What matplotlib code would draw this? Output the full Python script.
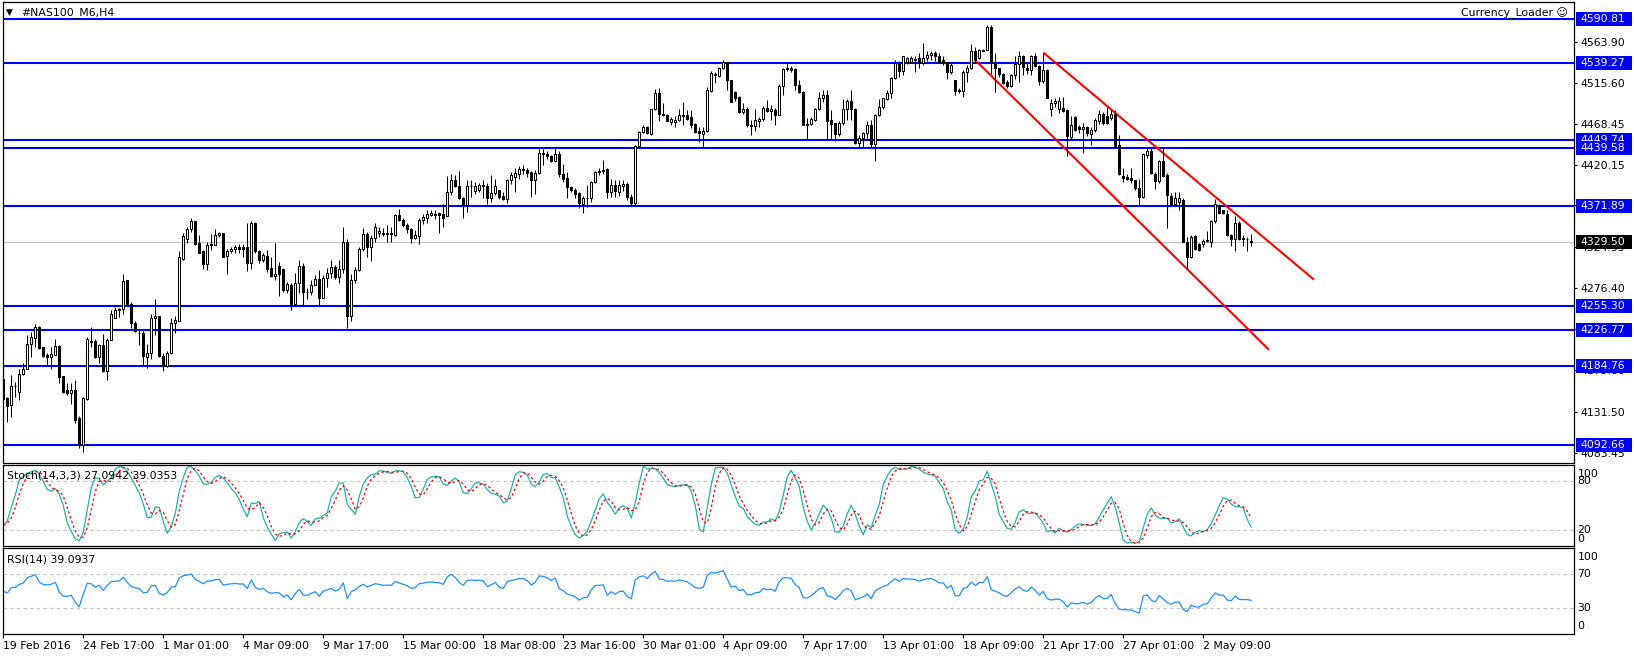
import numpy as np
import pandas as pd
import matplotlib
matplotlib.use('Agg')
import matplotlib.pyplot as plt
from matplotlib.patches import Rectangle

# ---- candles (#NAS100_M6, H4), one value per bar ----
opens = [4170, 4147, 4139, 4161, 4154, 4176, 4182, 4211, 4218, 4230,
         4207, 4198, 4196, 4198, 4208, 4173, 4157, 4153, 4157, 4124,
         4093, 4146, 4213, 4214, 4195, 4209, 4179, 4215, 4241, 4250,
         4252, 4285, 4258, 4235, 4224, 4224, 4196, 4200, 4241, 4243,
         4197, 4185, 4200, 4235, 4238, 4310, 4334, 4345, 4354, 4329,
         4319, 4304, 4326, 4327, 4338, 4340, 4314, 4319, 4322, 4324,
         4324, 4324, 4305, 4352, 4320, 4309, 4314, 4299, 4290, 4302,
         4298, 4274, 4280, 4257, 4282, 4302, 4272, 4271, 4280, 4287,
         4265, 4288, 4294, 4301, 4289, 4298, 4330, 4243, 4286, 4297,
         4322, 4339, 4324, 4335, 4341, 4341, 4339, 4340, 4338, 4361,
         4356, 4350, 4345, 4335, 4337, 4356, 4358, 4361, 4361, 4364,
         4363, 4360, 4389, 4403, 4395, 4381, 4373, 4395, 4390, 4391,
         4397, 4395, 4381, 4387, 4391, 4384, 4380, 4403, 4406, 4410,
         4414, 4414, 4412, 4402, 4411, 4434, 4433, 4430, 4425, 4433,
         4410, 4405, 4394, 4391, 4387, 4375, 4381, 4382, 4400, 4412,
         4413, 4415, 4388, 4397, 4389, 4396, 4398, 4383, 4376, 4442,
         4459, 4465, 4456, 4485, 4504, 4480, 4478, 4470, 4470, 4473,
         4479, 4478, 4476, 4468, 4460, 4456, 4460, 4507, 4525, 4524,
         4533, 4540, 4519, 4506, 4500, 4482, 4486, 4467, 4466, 4472,
         4474, 4487, 4483, 4484, 4479, 4513, 4534, 4534, 4532, 4514,
         4506, 4468, 4468, 4473, 4485, 4498, 4502, 4473, 4469, 4456,
         4469, 4485, 4495, 4486, 4446, 4452, 4457, 4467, 4445, 4478,
         4488, 4497, 4504, 4522, 4539, 4530, 4540, 4540, 4543, 4545,
         4539, 4545, 4549, 4551, 4547, 4543, 4541, 4529, 4519, 4508,
         4507, 4529, 4533, 4553, 4545, 4553, 4555, 4582, 4539, 4533,
         4527, 4517, 4512, 4525, 4538, 4547, 4533, 4531, 4547, 4536,
         4518, 4531, 4486, 4492, 4486, 4487, 4484, 4453, 4476, 4464,
         4462, 4464, 4456, 4461, 4471, 4480, 4477, 4475, 4480, 4444,
         4407, 4406, 4405, 4402, 4393, 4383, 4432, 4437, 4410, 4401,
         4425, 4408, 4384, 4375, 4377, 4379, 4330, 4313, 4337, 4328,
         4328, 4331, 4330, 4354, 4373, 4367, 4363, 4338, 4334, 4352,
         4335, 4334, 4331]
highs = [4172, 4149, 4174, 4166, 4182, 4189, 4221, 4225, 4234, 4232,
         4207, 4200, 4207, 4216, 4209, 4173, 4165, 4165, 4168, 4126,
         4149, 4219, 4230, 4217, 4211, 4222, 4218, 4250, 4254, 4253,
         4292, 4285, 4260, 4238, 4228, 4226, 4211, 4246, 4263, 4244,
         4200, 4202, 4241, 4243, 4319, 4340, 4348, 4358, 4355, 4338,
         4321, 4330, 4339, 4345, 4342, 4340, 4322, 4324, 4326, 4328,
         4328, 4352, 4354, 4353, 4321, 4317, 4321, 4312, 4329, 4307,
         4299, 4283, 4282, 4294, 4309, 4306, 4276, 4285, 4291, 4297,
         4291, 4299, 4309, 4303, 4309, 4347, 4334, 4292, 4301, 4324,
         4346, 4342, 4338, 4352, 4347, 4346, 4350, 4347, 4363, 4369,
         4358, 4352, 4346, 4344, 4358, 4363, 4367, 4368, 4367, 4365,
         4375, 4407, 4409, 4408, 4413, 4383, 4402, 4402, 4400, 4399,
         4403, 4399, 4408, 4404, 4391, 4389, 4404, 4412, 4416, 4419,
         4420, 4416, 4413, 4414, 4439, 4439, 4436, 4432, 4440, 4436,
         4421, 4412, 4395, 4393, 4389, 4384, 4397, 4401, 4413, 4416,
         4426, 4416, 4404, 4403, 4402, 4402, 4400, 4386, 4443, 4460,
         4467, 4466, 4486, 4509, 4510, 4492, 4480, 4476, 4477, 4486,
         4494, 4484, 4484, 4469, 4465, 4465, 4511, 4530, 4529, 4535,
         4543, 4541, 4520, 4507, 4501, 4492, 4488, 4473, 4486, 4476,
         4489, 4496, 4490, 4487, 4515, 4533, 4539, 4536, 4533, 4519,
         4507, 4475, 4476, 4487, 4506, 4508, 4508, 4484, 4469, 4471,
         4497, 4497, 4508, 4487, 4455, 4459, 4471, 4473, 4480, 4497,
         4499, 4508, 4523, 4543, 4542, 4548, 4546, 4547, 4547, 4551,
         4563, 4553, 4553, 4553, 4551, 4547, 4541, 4539, 4520, 4510,
         4531, 4537, 4562, 4558, 4556, 4556, 4584, 4584, 4551, 4534,
         4528, 4519, 4527, 4547, 4553, 4549, 4539, 4549, 4551, 4537,
         4551, 4532, 4497, 4498, 4500, 4500, 4485, 4477, 4477, 4467,
         4469, 4466, 4464, 4475, 4484, 4482, 4488, 4484, 4484, 4455,
         4416, 4410, 4416, 4403, 4404, 4434, 4441, 4441, 4412, 4426,
         4441, 4411, 4387, 4388, 4388, 4381, 4336, 4338, 4338, 4329,
         4333, 4343, 4356, 4380, 4374, 4368, 4367, 4339, 4360, 4354,
         4338, 4336, 4339]
lows = [4137, 4120, 4125, 4149, 4145, 4174, 4182, 4196, 4207, 4205,
        4196, 4186, 4182, 4198, 4165, 4153, 4151, 4141, 4118, 4089,
        4084, 4145, 4207, 4194, 4188, 4178, 4168, 4215, 4241, 4242,
        4246, 4257, 4229, 4225, 4209, 4185, 4183, 4193, 4221, 4196,
        4179, 4184, 4199, 4223, 4238, 4309, 4329, 4342, 4326, 4317,
        4298, 4297, 4321, 4326, 4336, 4313, 4293, 4317, 4317, 4317,
        4313, 4296, 4298, 4317, 4306, 4307, 4295, 4289, 4285, 4267,
        4272, 4270, 4250, 4255, 4270, 4255, 4263, 4268, 4280, 4256,
        4264, 4277, 4288, 4287, 4282, 4294, 4229, 4238, 4282, 4296,
        4320, 4312, 4308, 4330, 4336, 4337, 4330, 4330, 4337, 4355,
        4348, 4340, 4329, 4334, 4328, 4351, 4352, 4360, 4357, 4340,
        4348, 4360, 4385, 4394, 4380, 4358, 4365, 4383, 4386, 4389,
        4381, 4375, 4377, 4385, 4380, 4379, 4376, 4398, 4389, 4404,
        4409, 4406, 4383, 4386, 4409, 4420, 4427, 4423, 4424, 4406,
        4400, 4382, 4389, 4382, 4370, 4364, 4371, 4377, 4399, 4408,
        4410, 4381, 4383, 4383, 4384, 4390, 4379, 4372, 4372, 4441,
        4458, 4456, 4455, 4484, 4471, 4477, 4471, 4467, 4464, 4471,
        4467, 4473, 4463, 4458, 4447, 4441, 4459, 4506, 4516, 4523,
        4532, 4508, 4494, 4495, 4481, 4480, 4465, 4455, 4460, 4465,
        4472, 4482, 4473, 4467, 4478, 4502, 4530, 4529, 4508, 4504,
        4467, 4450, 4467, 4471, 4484, 4494, 4450, 4450, 4448, 4454,
        4467, 4473, 4473, 4445, 4441, 4441, 4451, 4441, 4425, 4477,
        4486, 4496, 4499, 4521, 4523, 4525, 4538, 4539, 4529, 4533,
        4537, 4542, 4543, 4542, 4539, 4537, 4521, 4527, 4502, 4504,
        4500, 4517, 4532, 4540, 4544, 4553, 4555, 4527, 4506, 4523,
        4515, 4510, 4511, 4521, 4517, 4525, 4527, 4525, 4535, 4514,
        4516, 4498, 4477, 4488, 4481, 4482, 4430, 4451, 4460, 4458,
        4434, 4454, 4443, 4459, 4468, 4467, 4468, 4473, 4441, 4408,
        4400, 4402, 4399, 4391, 4372, 4381, 4428, 4410, 4392, 4399,
        4406, 4346, 4373, 4373, 4367, 4330, 4299, 4311, 4321, 4320,
        4324, 4330, 4324, 4352, 4363, 4363, 4337, 4325, 4320, 4332,
        4325, 4320, 4325]
closes = [4146, 4138, 4161, 4162, 4176, 4182, 4211, 4219, 4230, 4206,
          4197, 4196, 4199, 4208, 4172, 4154, 4153, 4157, 4122, 4093,
          4147, 4217, 4214, 4195, 4209, 4179, 4215, 4246, 4250, 4252,
          4284, 4257, 4235, 4226, 4223, 4197, 4200, 4241, 4243, 4197,
          4185, 4200, 4235, 4239, 4312, 4337, 4345, 4355, 4328, 4317,
          4304, 4326, 4328, 4338, 4340, 4313, 4319, 4322, 4324, 4322,
          4322, 4305, 4352, 4319, 4309, 4315, 4298, 4290, 4293, 4292,
          4274, 4281, 4257, 4282, 4302, 4272, 4271, 4280, 4287, 4265,
          4288, 4294, 4301, 4289, 4298, 4330, 4243, 4286, 4297, 4322,
          4339, 4324, 4335, 4347, 4343, 4339, 4340, 4339, 4361, 4356,
          4350, 4345, 4335, 4338, 4356, 4359, 4363, 4364, 4363, 4362,
          4358, 4389, 4403, 4395, 4381, 4373, 4395, 4396, 4395, 4397,
          4395, 4381, 4387, 4395, 4383, 4380, 4403, 4408, 4411, 4415,
          4415, 4411, 4402, 4411, 4434, 4433, 4430, 4425, 4433, 4409,
          4404, 4394, 4391, 4386, 4376, 4381, 4382, 4400, 4412, 4413,
          4414, 4388, 4397, 4390, 4397, 4398, 4383, 4376, 4442, 4459,
          4465, 4457, 4485, 4504, 4480, 4478, 4472, 4474, 4473, 4479,
          4477, 4474, 4467, 4459, 4457, 4460, 4508, 4528, 4526, 4533,
          4540, 4519, 4494, 4498, 4482, 4486, 4467, 4466, 4473, 4474,
          4487, 4483, 4485, 4479, 4513, 4532, 4532, 4531, 4514, 4505,
          4467, 4467, 4474, 4485, 4498, 4502, 4472, 4468, 4456, 4469,
          4486, 4495, 4486, 4446, 4452, 4457, 4467, 4445, 4478, 4488,
          4498, 4504, 4522, 4539, 4530, 4547, 4545, 4545, 4544, 4539,
          4545, 4549, 4551, 4547, 4541, 4541, 4529, 4537, 4507, 4507,
          4529, 4533, 4553, 4543, 4555, 4555, 4582, 4539, 4533, 4527,
          4516, 4512, 4525, 4538, 4547, 4535, 4531, 4547, 4536, 4518,
          4531, 4499, 4492, 4495, 4495, 4483, 4454, 4467, 4461, 4462,
          4465, 4457, 4461, 4473, 4480, 4469, 4469, 4480, 4442, 4409,
          4405, 4404, 4403, 4393, 4383, 4433, 4437, 4411, 4401, 4425,
          4407, 4385, 4375, 4382, 4382, 4330, 4313, 4336, 4322, 4321,
          4331, 4332, 4354, 4375, 4364, 4364, 4338, 4334, 4352, 4334,
          4333, 4333, 4329.5]

# horizontal lines drawn on the chart and the bid line
levels = [4590.81, 4539.27, 4449.74, 4439.58, 4371.89, 4255.30, 4226.77, 4184.76, 4092.66]
bid = 4329.50
# red trend lines (bar index, price)
upper_x, upper_y = [260.25, 327.5], [4550.7, 4286.7]
lower_x, lower_y = [243.5, 316.25], [4540.5, 4204.8]

price_ticks = [4563.90, 4515.60, 4468.45, 4420.15, 4372.85, 4324.55,
               4276.40, 4228.10, 4179.80, 4131.50, 4083.45]
date_pos = [0, 20, 40, 60, 80, 100, 120, 140, 160, 180, 200, 220, 240, 260, 280, 300]
date_labels = ['19 Feb 2016', '24 Feb 17:00', '1 Mar 01:00', '4 Mar 09:00', '9 Mar 17:00',
               '15 Mar 00:00', '18 Mar 08:00', '23 Mar 16:00', '30 Mar 01:00', '4 Apr 09:00',
               '7 Apr 17:00', '13 Apr 01:00', '18 Apr 09:00', '21 Apr 17:00', '27 Apr 01:00',
               '2 May 09:00']

plt.rcParams['font.family'] = 'DejaVu Sans'
plt.rcParams['font.size'] = 7.8

o = np.array(opens, float)
h = np.array(highs, float)
l = np.array(lows, float)
c = np.array(closes, float)
x = np.arange(len(c))

# Stoch(14,3,3) from the candles
cs = pd.Series(c)
hh = pd.Series(h).rolling(14, min_periods=1).max()
ll = pd.Series(l).rolling(14, min_periods=1).min()
stoch_k = (cs - ll).rolling(3, min_periods=1).sum() / (hh - ll).rolling(3, min_periods=1).sum() * 100
stoch_d = stoch_k.rolling(3, min_periods=1).mean()

# RSI(14), Wilder smoothing, seeded with the average move of the first bars
d = np.diff(c)
up_move = np.clip(d, 0, None)
dn_move = np.clip(-d, 0, None)
ag = np.empty(len(c))
al = np.empty(len(c))
ag[0] = al[0] = np.abs(d[:14]).mean() / 2
for i in range(1, len(c)):
    ag[i] = (ag[i-1] * 13 + up_move[i-1]) / 14
    al[i] = (al[i-1] * 13 + dn_move[i-1]) / 14
rsi = 100 - 100 / (1 + ag / al)

W, H = 1634, 658
fig = plt.figure(figsize=(W/100, H/100), dpi=100)
fig.patch.set_facecolor('white')

def panel(top, bottom):
    return fig.add_axes([2.5/W, 1 - bottom/H, (1574 - 2.5)/W, (bottom - top)/H])

ax = panel(2, 463.3)
ax_st = panel(465, 546.3)
ax_rsi = panel(548.3, 634)

xmin, xmax = -0.2, 392.7
for a in (ax, ax_st, ax_rsi):
    a.set_xlim(xmin, xmax)
    for s in a.spines.values():
        s.set_linewidth(0.9)
        s.set_color('black')

# ---- main price panel ----
ax.set_ylim(4071.15, 4610.7)
ax.axhline(bid, color='#C0C0C0', lw=0.8, zorder=1)
for lv in levels:
    ax.axhline(lv, color='#0000FF', lw=1.5, zorder=2)
ax.plot(upper_x, upper_y, color='red', lw=1.5, zorder=2)
ax.plot(lower_x, lower_y, color='red', lw=1.5, zorder=2)

ax.vlines(x, l, h, color='black', lw=0.75, zorder=3)
up = c >= o
ax.bar(x[up], (c - o)[up], bottom=o[up], width=0.55, facecolor='white',
       edgecolor='black', linewidth=0.75, zorder=4)
ax.bar(x[~up], (c - o)[~up], bottom=o[~up], width=0.55, facecolor='black',
       edgecolor='black', linewidth=0.75, zorder=4)

ax.yaxis.tick_right()
ax.set_yticks(price_ticks, labels=['%.2f' % t for t in price_ticks])
ax.tick_params(axis='y', length=2.5, pad=2, labelsize=7.8)
ax.tick_params(axis='x', bottom=False, labelbottom=False)

# coloured price tags on the right
fx0 = (1576 - 2.5) / 1571.5
fw = (1632 - 1576) / 1571.5
tx = (1580 - 2.5) / 1571.5
bh = 14 * (4610.7 - 4071.15) / 461.3
z = 10
tags = [(lv, '#0000FF') for lv in levels] + [(bid, 'black')]
for lv, col in tags:
    ax.add_patch(Rectangle((fx0, lv - bh/2), fw, bh, transform=ax.get_yaxis_transform(),
                           facecolor=col, edgecolor='none', clip_on=False, zorder=z))
    ax.text(tx, lv, '%.2f' % lv, transform=ax.get_yaxis_transform(), color='white',
            ha='left', va='center', fontsize=7.8, clip_on=False, zorder=z + 1)
    z += 2

fig.text(6/W, 1 - 12.5/H, '\u25bc', fontsize=6.5, va='center', ha='left')
fig.text(21.5/W, 1 - 12.5/H, '#NAS100_M6,H4', va='center', ha='left')
fig.text(1568/W, 1 - 13/H, 'Currency_Loader \u263a', va='center', ha='right')

# ---- stochastic ----
ax_st.set_ylim(0, 100)
for lv in (20, 80):
    ax_st.axhline(lv, color='#C0C0C0', lw=0.8, ls=(0, (3, 3)))
ax_st.plot(x, stoch_k, color='#20B2AA', lw=0.9)
ax_st.plot(x, stoch_d, color='red', lw=0.9, ls=(0, (2, 2)))
ax_st.set_yticks([])
ax_st.tick_params(axis='x', bottom=False, labelbottom=False)
ax_st.text(4.5/1571.5, 0.87, 'Stoch(14,3,3) 27.0942 39.0353', transform=ax_st.transAxes,
           va='center', ha='left')
yt = ax_st.get_yaxis_transform()
lx = (1577.5 - 2.5) / 1571.5
ax_st.text(lx, 89, '100', transform=yt, va='center', ha='left', clip_on=False)
ax_st.text(lx, 80, '80', transform=yt, va='center', ha='left', clip_on=False)
ax_st.text(lx, 20, '20', transform=yt, va='center', ha='left', clip_on=False)
ax_st.text(lx, 9, '0', transform=yt, va='center', ha='left', clip_on=False)

# ---- RSI ----
ax_rsi.set_ylim(0, 100)
for lv in (30, 70):
    ax_rsi.axhline(lv, color='#C0C0C0', lw=0.8, ls=(0, (3, 3)))
ax_rsi.plot(x, rsi, color='#1E90FF', lw=0.9)
ax_rsi.set_yticks([])
ax_rsi.text(4.5/1571.5, 0.87, 'RSI(14) 39.0937', transform=ax_rsi.transAxes,
            va='center', ha='left')
yt = ax_rsi.get_yaxis_transform()
ax_rsi.text(lx, 90, '100', transform=yt, va='center', ha='left', clip_on=False)
ax_rsi.text(lx, 70, '70', transform=yt, va='center', ha='left', clip_on=False)
ax_rsi.text(lx, 30, '30', transform=yt, va='center', ha='left', clip_on=False)
ax_rsi.text(lx, 9, '0', transform=yt, va='center', ha='left', clip_on=False)

ax_rsi.set_xticks(date_pos, labels=date_labels, ha='left')
ax_rsi.tick_params(axis='x', length=3, pad=2, labelsize=7.8)

fig.savefig('out.png', dpi=100, facecolor='white')
